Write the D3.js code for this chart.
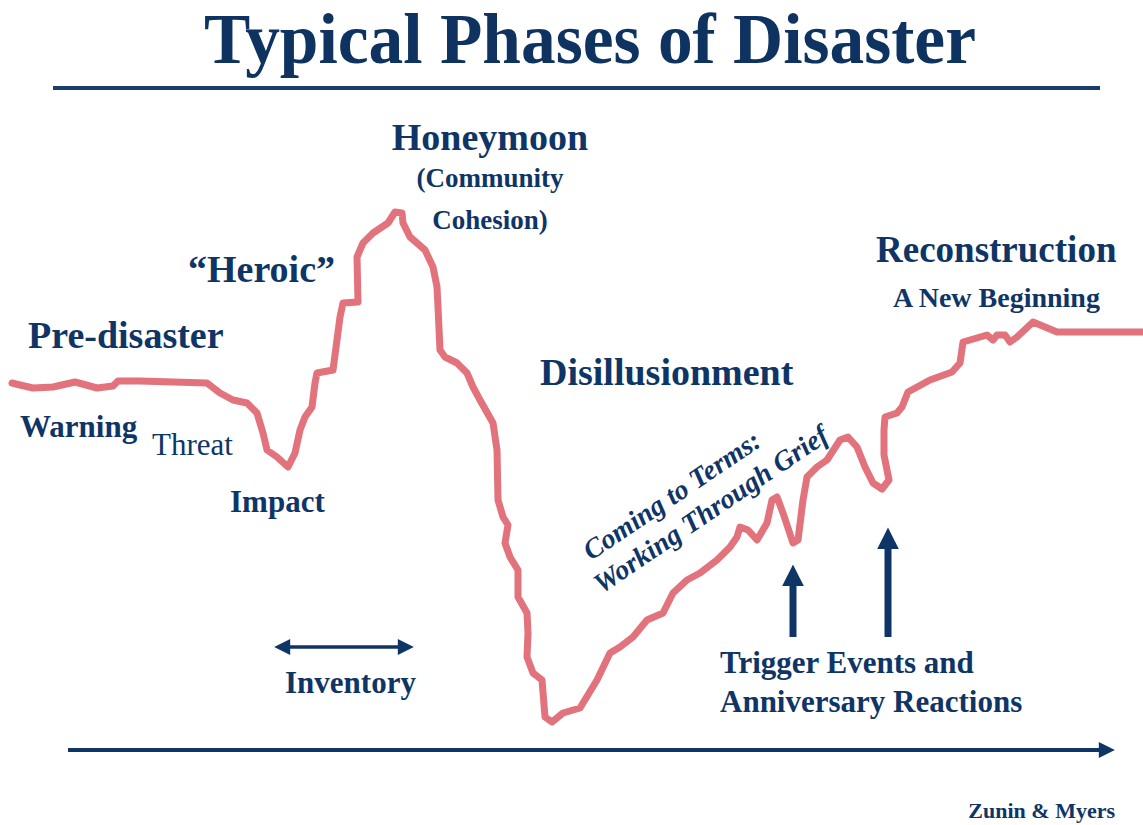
<!DOCTYPE html>
<html>
<head>
<meta charset="utf-8">
<script src="https://cdn.jsdelivr.net/npm/d3@7"></script>
<style>
  html, body { margin: 0; padding: 0; background: #ffffff; }
  svg { display: block; }
  text { font-family: "Liberation Serif", "Times New Roman", serif; fill: #0f3566; }
</style>
</head>
<body>
<svg id="chart" width="1143" height="825"></svg>
<script>
// ---- Data ----
// time runs left to right; level = height above the time axis
const curveTime = [0,8,21,41,63,85,101,106,128,195,208,221,235,245,251,255,265,276,283,288,293,300,303,305,321,328,331,346,345,351,361,376,383,390,391,398,413,421,425,426,428,433,445,455,461,468,481,485,486,491,496,493,498,506,506,515,516,515,521,530,533,540,551,568,585,598,608,621,635,651,661,675,688,705,718,725,728,736,745,755,760,765,771,781,786,791,795,805,815,828,836,845,853,861,870,877,872,872,873,885,890,896,918,940,948,951,958,975,981,985,993,998,1005,1021,1045,1131];
const curveLevel = [367,365,362,363,368,362,364,369,369,367,357,350,347,337,317,300,293,283,297,320,333,343,367,377,380,433,447,448,493,507,517,527,538,537,527,513,500,483,463,443,400,393,387,377,363,350,327,300,250,233,225,207,193,180,153,137,117,93,77,70,33,28,37,42,70,97,103,113,130,137,157,170,177,190,203,213,223,220,210,227,250,253,237,207,210,250,273,283,290,310,313,303,283,267,261,270,295,320,333,337,343,358,370,378,387,408,410,415,410,415,415,408,413,428,418,418];

const titleText = "Typical Phases of Disaster";
const phaseLabels = [
  { text: "Honeymoon",        t: 478, lv: 600, size: 38, weight: "bold", anchor: "middle" },
  { text: "(Community",       t: 478, lv: 563, size: 27, weight: "bold", anchor: "middle" },
  { text: "Cohesion)",        t: 478, lv: 521, size: 27, weight: "bold", anchor: "middle" },
  { text: "\u201cHeroic\u201d", t: 176, lv: 468, size: 38, weight: "bold", anchor: "start" },
  { text: "Pre-disaster",     t: 16,  lv: 402, size: 38, weight: "bold", anchor: "start" },
  { text: "Warning",          t: 8,   lv: 313, size: 31, weight: "bold", anchor: "start" },
  { text: "Threat",           t: 140, lv: 295, size: 31, weight: "normal", anchor: "start" },
  { text: "Impact",           t: 218, lv: 238, size: 31, weight: "bold", anchor: "start" },
  { text: "Disillusionment",  t: 528, lv: 365, size: 38, weight: "bold", anchor: "start" },
  { text: "Reconstruction",   t: 864, lv: 488, size: 37, weight: "bold", anchor: "start" },
  { text: "A New Beginning",  t: 881, lv: 443, size: 28, weight: "bold", anchor: "start" },
  { text: "Trigger Events and",    t: 708, lv: 77, size: 31, weight: "bold", anchor: "start" },
  { text: "Anniversary Reactions", t: 708, lv: 38, size: 31, weight: "bold", anchor: "start" },
  { text: "Inventory",        t: 273, lv: 57, size: 31, weight: "bold", anchor: "start" }
];
const griefLines = ["Coming to Terms:", "Working Through Grief"];
const triggerTimes = [781, 876];          // trigger-event arrows
const triggerTops  = [188, 225];          // arrow tip levels
const inventorySpan = [261, 403];         // inventory double arrow
const credit = "Zunin & Myers";

// ---- Scales ----
const W = 1143, H = 825;
const x = d3.scaleLinear().domain([0, 1131]).range([12, 1143]);
const y = d3.scaleLinear().domain([0, 750]).range([750, 0]);

const svg = d3.select("#chart");
const navy = "#0f3566";
const pink = "#e2727b";

const defs = svg.append("defs");
function arrowMarker(id, w, h) {
  defs.append("marker")
    .attr("id", id).attr("viewBox", "0 0 10 10")
    .attr("refX", 2).attr("refY", 5)
    .attr("markerUnits", "userSpaceOnUse")
    .attr("markerWidth", w).attr("markerHeight", h)
    .attr("orient", "auto-start-reverse")
    .append("path").attr("d", "M0,0 L10,5 L0,10 Z").attr("fill", navy);
}
arrowMarker("headBig", 22, 22);
arrowMarker("headAxis", 18, 16);
arrowMarker("headSmall", 20, 16);

// ---- Title ----
svg.append("text")
  .attr("x", 590).attr("y", 63)
  .attr("text-anchor", "middle")
  .attr("font-size", 72).attr("font-weight", "bold")
  .attr("textLength", 772).attr("lengthAdjust", "spacingAndGlyphs")
  .style("fill", "#0e3360")
  .text(titleText);
svg.append("line")
  .attr("x1", 53).attr("x2", 1100).attr("y1", 88).attr("y2", 88)
  .attr("stroke", "#1a3d6b").attr("stroke-width", 4);

// ---- Time axis arrow ----
svg.append("line")
  .attr("x1", x(56)).attr("x2", x(1090)).attr("y1", y(0)).attr("y2", y(0))
  .attr("stroke", navy).attr("stroke-width", 4)
  .attr("marker-end", "url(#headAxis)");

// ---- Curve ----
const pts = curveTime.map((t, i) => [t, curveLevel[i]]);
const line = d3.line().x(d => x(d[0])).y(d => y(d[1])).curve(d3.curveLinear);
svg.append("path")
  .datum(pts)
  .attr("d", line)
  .attr("fill", "none")
  .attr("stroke", pink)
  .attr("stroke-width", 7)
  .attr("stroke-linejoin", "round")
  .attr("stroke-linecap", "round");

// ---- Labels ----
svg.selectAll("text.phase")
  .data(phaseLabels).enter().append("text")
  .attr("class", "phase")
  .attr("x", d => x(d.t)).attr("y", d => y(d.lv))
  .attr("text-anchor", d => d.anchor)
  .attr("font-size", d => d.size)
  .attr("font-weight", d => d.weight)
  .text(d => d.text);

// ---- Rotated grief text ----
const griefCenters = [[665, 247], [704, 233]];
griefLines.forEach((s, i) => {
  svg.append("text")
    .attr("transform", `translate(${x(griefCenters[i][0])},${y(griefCenters[i][1])}) rotate(-34)`)
    .attr("text-anchor", "middle")
    .attr("font-size", 28).attr("font-weight", "bold").attr("font-style", "italic")
    .text(s);
});

// ---- Trigger arrows ----
triggerTimes.forEach((t, i) => {
  svg.append("line")
    .attr("x1", x(t)).attr("x2", x(t))
    .attr("y1", y(113)).attr("y2", y(triggerTops[i]) + 20)
    .attr("stroke", navy).attr("stroke-width", 7)
    .attr("marker-end", "url(#headBig)");
});

// ---- Inventory double arrow ----
svg.append("line")
  .attr("x1", x(inventorySpan[0]) + 14).attr("x2", x(inventorySpan[1]) - 14)
  .attr("y1", y(103)).attr("y2", y(103))
  .attr("stroke", navy).attr("stroke-width", 3.5)
  .attr("marker-start", "url(#headSmall)")
  .attr("marker-end", "url(#headSmall)");

// ---- Credit ----
svg.append("text")
  .attr("x", 1115).attr("y", 818)
  .attr("text-anchor", "end")
  .attr("font-size", 22).attr("font-weight", "bold")
  .text(credit);
</script>
</body>
</html>
